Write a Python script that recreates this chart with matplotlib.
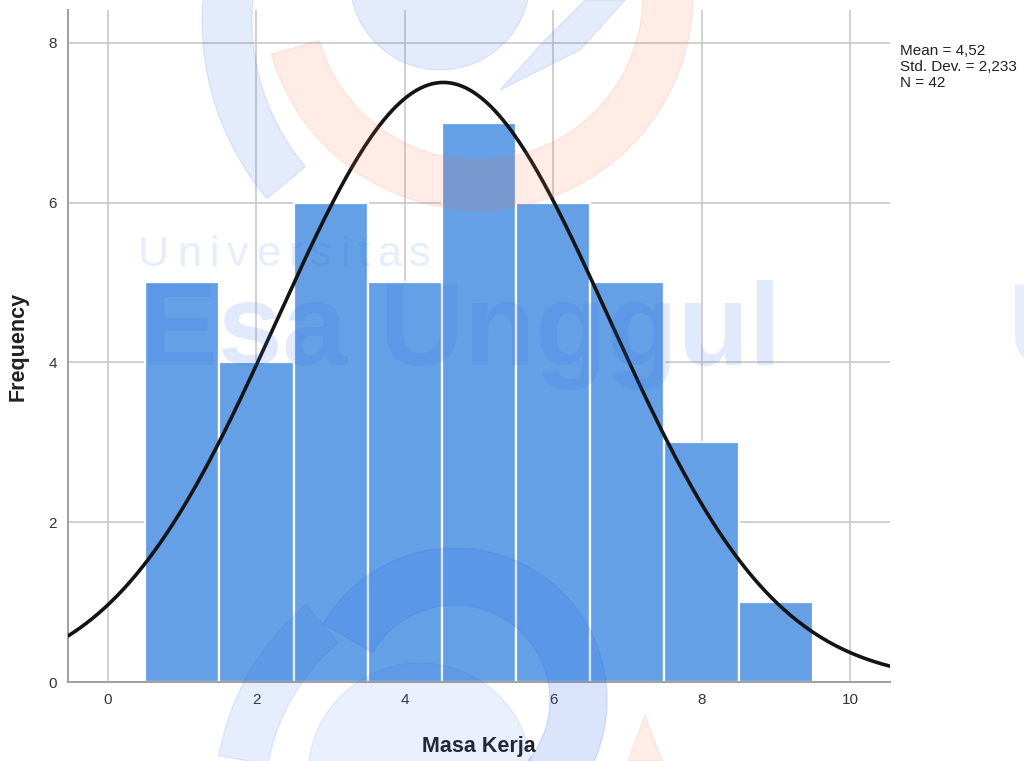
import matplotlib
matplotlib.use("Agg")
import matplotlib.pyplot as plt
from matplotlib.patches import Wedge, Circle, Polygon
import numpy as np

plt.rcParams['font.family'] = ['Liberation Sans', 'DejaVu Sans']

# histogram data
bin_centers = [1, 2, 3, 4, 5, 6, 7, 8, 9]
counts = [5, 4, 6, 5, 7, 6, 5, 3, 1]
mean = 4.52
std_dev = 2.233
n_total = 42
x_ticks = [0, 2, 4, 6, 8, 10]
y_ticks = [0, 2, 4, 6, 8]

W, H = 1024, 761
fig = plt.figure(figsize=(W / 100, H / 100), dpi=100)
ax = fig.add_axes([68 / W, 1 - 682 / H, (890 - 68) / W, (682 - 10) / H])

ax.set_axisbelow(True)
ax.grid(True, color="#c8c8c8", linewidth=1.2)
ax.bar(bin_centers, counts, width=1.0, color="#659fe6", edgecolor="white", linewidth=1.6, zorder=2)

xs = np.linspace(-0.54, 10.54, 400)
ys = n_total * 1.0 / (std_dev * np.sqrt(2 * np.pi)) * np.exp(-0.5 * ((xs - mean) / std_dev) ** 2)
ax.plot(xs, ys, color="#141414", linewidth=2.6, zorder=3, solid_capstyle="round")

ax.set_xlim(-0.54, 10.54)
ax.set_ylim(0, 8.41)
ax.set_xticks(x_ticks)
ax.set_yticks(y_ticks)
ax.tick_params(length=0, labelsize=11, colors="#333333", pad=8)
for s in ["top", "right"]:
    ax.spines[s].set_visible(False)
for s in ["left", "bottom"]:
    ax.spines[s].set_color("#a0a0a0")
    ax.spines[s].set_linewidth(1.4)

ax.set_xlabel("Masa Kerja", fontsize=15.5, fontweight="bold", color="#222222", labelpad=21)
ax.set_ylabel("Frequency", fontsize=15.5, fontweight="bold", color="#222222", labelpad=14)

fig.text(900 / W, 1 - 44 / H,
         "Mean = 4,52\nStd. Dev. = 2,233\nN = 42",
         fontsize=11, va="top", ha="left", color="#222222", linespacing=1.2)


# faint watermark (logo + text), positions in picture pixels from top-left
def px(x, y):
    return (x, H - y)


wm_blue = (0.2, 0.45, 0.93)
wm_orange = (1.0, 0.45, 0.25)
shapes = [
    Circle(px(440, -20), 90, color=wm_blue, alpha=0.13),
    Wedge(px(480, 20), 278, 170, 220, width=50, color=wm_blue, alpha=0.13),
    Wedge(px(478, -5), 215, 196, 360, width=50, color=wm_orange, alpha=0.13),
    Polygon([px(585, 0), px(625, 0), px(580, 50), px(500, 90), px(545, 40)],
            color=wm_blue, alpha=0.13),
    Circle(px(420, 775), 112, color=wm_blue, alpha=0.1),
    Wedge(px(455, 700), 152, -40, 150, width=57, color=wm_blue, alpha=0.18),
    Wedge(px(470, 800), 255, 130, 170, width=50, color=wm_blue, alpha=0.12),
    Polygon([px(645, 715), px(662, 761), px(628, 761)], color=wm_orange, alpha=0.12),
]
for p in shapes:
    p.set_transform(None)
    p.set_zorder(10)
    fig.patches.append(p)

# spaced-out "Universitas", letters placed one after another
renderer = fig.canvas.get_renderer()
x_cur = 138
for ch in "Universitas":
    t = fig.text(x_cur / W, 1 - 266 / H, ch, fontsize=31, color=wm_blue,
                 alpha=0.12, va="baseline", ha="left", zorder=10)
    x_cur += t.get_window_extent(renderer).width + 8
fig.text(140 / W, 1 - 365 / H, "Esa Unggul", fontsize=84, fontweight="bold",
         color=wm_blue, alpha=0.15, va="baseline", ha="left", zorder=10)
fig.text(1008 / W, 1 - 365 / H, "U", fontsize=84, fontweight="bold",
         color=wm_blue, alpha=0.12, va="baseline", ha="left", zorder=10)

fig.savefig("out.png", dpi=100)
